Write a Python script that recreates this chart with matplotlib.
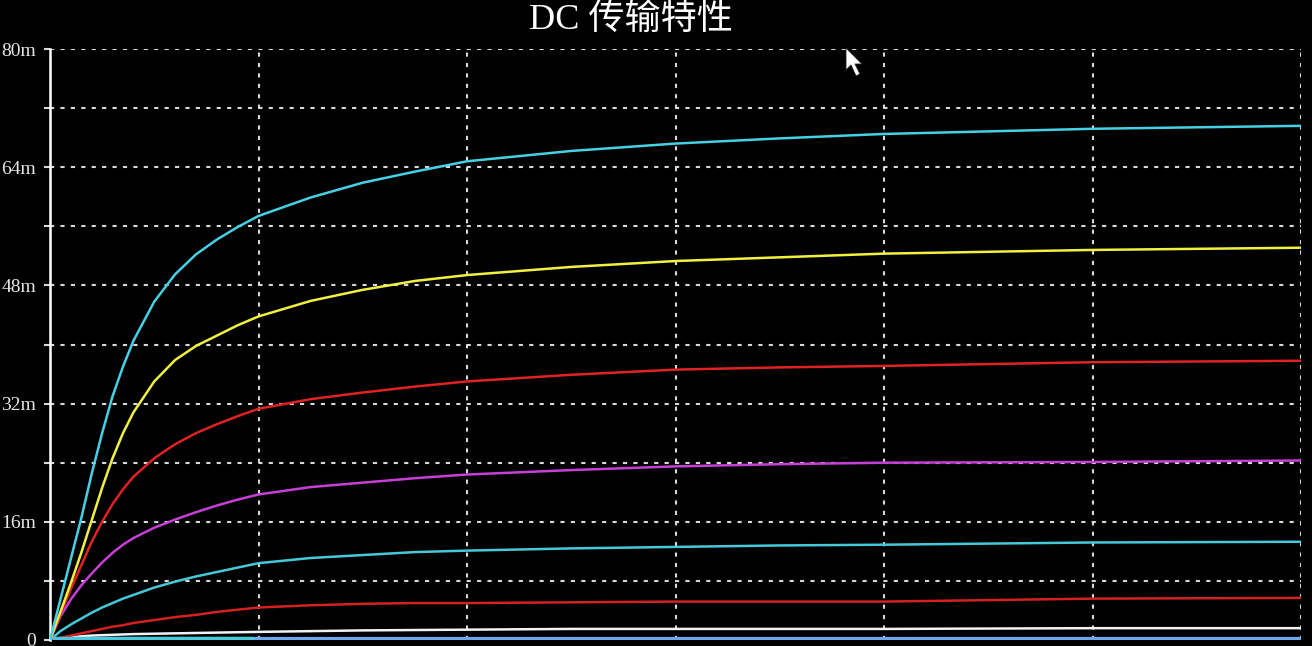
import matplotlib.pyplot as plt
from matplotlib.patches import Polygon
from matplotlib.ticker import MultipleLocator, FuncFormatter

# DC transfer characteristics (y in mA)
vds = [0, 0.05, 0.1, 0.15, 0.2, 0.25, 0.3, 0.35, 0.4, 0.5, 0.6, 0.7, 0.8,
       0.9, 1.0, 1.25, 1.5, 1.75, 2.0, 2.5, 3.0, 3.5, 4.0, 5.0, 6.0]

id_cyan_top = [0, 5.5, 11.0, 16.5, 22.5, 28.0, 33.0, 37.0, 40.5, 45.8, 49.5,
               52.2, 54.2, 55.9, 57.4, 59.9, 61.9, 63.4, 64.8, 66.2, 67.2,
               67.9, 68.5, 69.2, 69.6]
id_yellow = [0, 3.8, 7.7, 11.8, 16.2, 20.6, 24.6, 28.0, 30.8, 35.0, 37.9,
             39.8, 41.2, 42.6, 43.8, 45.9, 47.4, 48.6, 49.4, 50.5, 51.3,
             51.8, 52.3, 52.8, 53.1]
id_red_top = [0, 3.5, 6.9, 10.1, 13.3, 16.0, 18.4, 20.4, 22.1, 24.6, 26.5,
              28.0, 29.2, 30.3, 31.3, 32.6, 33.5, 34.3, 35.0, 35.9, 36.6,
              36.9, 37.1, 37.6, 37.8]
id_magenta = [0, 3.2, 5.5, 7.4, 9.0, 10.5, 11.8, 12.9, 13.8, 15.2, 16.3,
              17.3, 18.2, 19.0, 19.7, 20.7, 21.3, 21.9, 22.4, 23.0, 23.5,
              23.8, 24.0, 24.1, 24.3]
id_cyan_low = [0, 1.2, 2.1, 2.9, 3.7, 4.4, 5.0, 5.6, 6.1, 7.1, 7.9,
               8.6, 9.2, 9.8, 10.4, 11.1, 11.5, 11.9, 12.1, 12.4, 12.6,
               12.8, 12.9, 13.2, 13.3]
id_red_low = [0, 0.3, 0.6, 0.9, 1.2, 1.5, 1.8, 2.0, 2.3, 2.7, 3.1,
              3.4, 3.8, 4.1, 4.4, 4.7, 4.9, 5.0, 5.0, 5.1, 5.2,
              5.2, 5.2, 5.6, 5.7]
id_white = [0, 0.2, 0.35, 0.5, 0.6, 0.65, 0.7, 0.75, 0.8, 0.85, 0.9,
            0.95, 1.0, 1.05, 1.1, 1.2, 1.3, 1.35, 1.4, 1.5, 1.5,
            1.5, 1.5, 1.6, 1.6]
id_blue = [0.15] * len(vds)
vds_cyan_floor = [0.02, 0.97]
id_cyan_floor = [0.3, 0.3]

curves = [
    (id_blue, '#6fa6ee', 3.0),
    (id_white, '#f2f2f2', 1.8),
    (id_red_low, '#d42020', 1.8),
    (id_cyan_low, '#45c8d8', 1.8),
    (id_magenta, '#c63fd6', 1.8),
    (id_red_top, '#e02222', 1.8),
    (id_yellow, '#f0f040', 1.8),
    (id_cyan_top, '#45d0e4', 1.8),
]

fig = plt.figure(figsize=(13.12, 6.46), dpi=100, facecolor='black')
ax = fig.add_axes([50 / 1312, 6 / 646, 1251 / 1312, 591 / 646])
ax.set_facecolor('black')

for ys, col, lw in curves:
    ax.plot(vds, ys, color=col, lw=lw, solid_joinstyle='round', zorder=3)
ax.plot(vds_cyan_floor, id_cyan_floor, color='#48c8dc', lw=2.5, zorder=3)

ax.set_xlim(0, 6)
ax.set_ylim(0, 80)
ax.xaxis.set_major_locator(MultipleLocator(1))
ax.yaxis.set_major_locator(MultipleLocator(16))
ax.yaxis.set_minor_locator(MultipleLocator(8))
ax.yaxis.set_major_formatter(FuncFormatter(lambda v, p: '0' if v == 0 else f'{v:.0f}m'))

ax.grid(True, which='both', color='#d8d8d8', lw=1.5, dashes=(2, 3), zorder=1)
ax.tick_params(axis='x', length=0, labelbottom=False)
ax.tick_params(axis='y', which='both', length=4, width=1.5, color='#d8d8d8')
ax.tick_params(axis='y', which='major', pad=6, labelcolor='#e8e8e8', labelsize=14)
for lab in ax.get_yticklabels():
    lab.set_fontfamily('Liberation Serif')

for s in ['top', 'right', 'bottom']:
    ax.spines[s].set_visible(False)
ax.spines['left'].set_color('white')
ax.spines['left'].set_linewidth(1.8)

fig.text(631 / 1312, 1 - 20 / 646, 'DC 传输特性', color='white', fontsize=26,
         ha='center', va='center', family=['Liberation Serif', 'Noto Sans CJK SC'])

# mouse pointer left in the screenshot
tip_x, tip_y = 846, 646 - 48
arrow = [(0, 0), (0, -22), (5, -17), (10, -28), (14, -26), (9, -16), (16, -16)]
fig.patches.append(Polygon([(tip_x + dx, tip_y + dy) for dx, dy in arrow],
                           closed=True, facecolor='white', edgecolor='#202020',
                           lw=0.6, transform=None, figure=fig))

fig.savefig('out.png', dpi=100, facecolor='black')
